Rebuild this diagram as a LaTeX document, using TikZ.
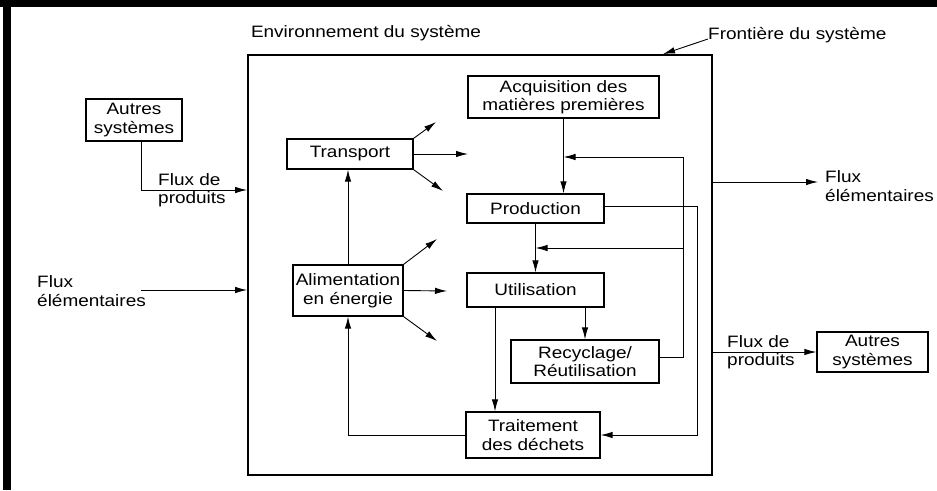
\documentclass[tikz,border=0pt]{standalone}
\usepackage{fontspec}
\setmainfont{Liberation Sans}[FakeStretch=1.15]
\usetikzlibrary{arrows.meta}
\begin{document}
\begin{tikzpicture}[x=1pt,y=-1pt,
  every node/.style={font=\fontsize{16.5}{18.5}\selectfont},
  box/.style={draw, line width=1.3pt, inner sep=0pt, align=center},
  conn/.style={line width=0.9pt},
  arr/.style={conn, -{Latex[length=12pt,width=6.5pt]}},
  lbl/.style={inner sep=0pt, align=left, anchor=west}]
\useasboundingbox (0,0) rectangle (937,490);

% page frame (top and left rules)
\fill (0,0) rectangle (937,7);
\fill (3,0) rectangle (11,490);

% system boundary
\node[draw, line width=1.8pt, minimum width=464pt, minimum height=420pt, inner sep=0pt] (sys) at (480,265) {};
\node (env) at (366,33) {Environnement du système};
\node[lbl, anchor=base west] (ftxt) at (708,39) {Frontière du système};
\coordinate (ftip) at (sys.north -| 663,0);
\draw[arr] (ftxt.base west) -- (ftip);

% processes inside the system
\node[box, minimum width=191pt, minimum height=42pt] (acq) at (563.5,97) {Acquisition des\\matières premières};
\node[box, minimum width=137pt, minimum height=29pt] (prod) at (535.5,208.5) {Production};
\node[box, minimum width=137pt, minimum height=34pt] (util) at (535.5,290) {Utilisation};
\node[box, minimum width=148pt, minimum height=43pt] (recy) at (585,361.5) {Recyclage/\\Réutilisation};
\node[box, minimum width=134pt, minimum height=46pt] (trait) at (533,435) {Traitement\\des déchets};
\node[box, minimum width=126pt, minimum height=30pt] (transp) at (350,154) {Transport};
\node[box, minimum width=110pt, minimum height=51pt] (alim) at (348,290.5) {Alimentation\\en énergie};

% other systems
\node[box, minimum width=96pt, minimum height=42pt] (autresL) at (134,120) {Autres\\systèmes};
\node[box, minimum width=111pt, minimum height=40pt] (autresR) at (872.5,352) {Autres\\systèmes};

% main chain
\draw[arr] (acq.south) -- (acq.south |- prod.north);
\draw[arr] (prod.south) -- (util.north);
\draw[arr] ([xshift=-40.5pt]util.south) -- ([xshift=-40.5pt]util.south |- trait.north);
\draw[arr] (recy.north |- util.south) -- (recy.north);

% recycling loop back to production and use
\coordinate (rA) at (683,157);
\coordinate (rB) at (683,248);
\draw[conn] ([yshift=4.5pt]recy.east) -| (rA);
\draw[arr] (rA) -- (acq.south |- rA);
\draw[arr] (rB) -- (prod.south |- rB);

% production waste to treatment
\coordinate (pB) at (trait.east -| 697,0);
\draw[arr] ([yshift=2.5pt]prod.east) -| (pB) -- (trait.east);

% treatment to energy supply, energy to transport
\draw[arr] (trait.west) -| (alim.south);
\draw[arr] (alim.north) -- (alim.north |- transp.south);

% transport spokes
\coordinate (t1) at (436,122);
\coordinate (t2) at (468,154);
\coordinate (t3) at (443,191);
\draw[arr] (transp.north east) -- (t1);
\draw[arr] (transp.east) -- (t2);
\draw[arr] (transp.south east) -- (t3);

% energy spokes
\coordinate (a1) at (437,239);
\coordinate (a2) at (447,291);
\coordinate (a3) at (437,341);
\draw[arr] (alim.north east) -- (a1);
\draw[arr] (alim.east) -- (a2);
\draw[arr] (alim.south east) -- (a3);

% inputs
\draw[arr] ([xshift=7pt]autresL.south) |- (sys.west |- 0,190);
\node[lbl] (fpL) at (158,190) {Flux de\\produits};
\coordinate (fl) at (141,290);
\draw[arr] (fl) -- (sys.west |- fl);
\node[lbl] (feL) at (37,291) {Flux\\élémentaires};

% outputs
\coordinate (fr) at (818,182);
\draw[arr] (sys.east |- fr) -- (fr);
\node[lbl] (feR) at (825,186) {Flux\\élémentaires};
\draw[arr] (sys.east |- autresR.west) -- (autresR.west);
\node[lbl] (fpR) at (727,352) {Flux de\\produits};
\end{tikzpicture}
\end{document}
